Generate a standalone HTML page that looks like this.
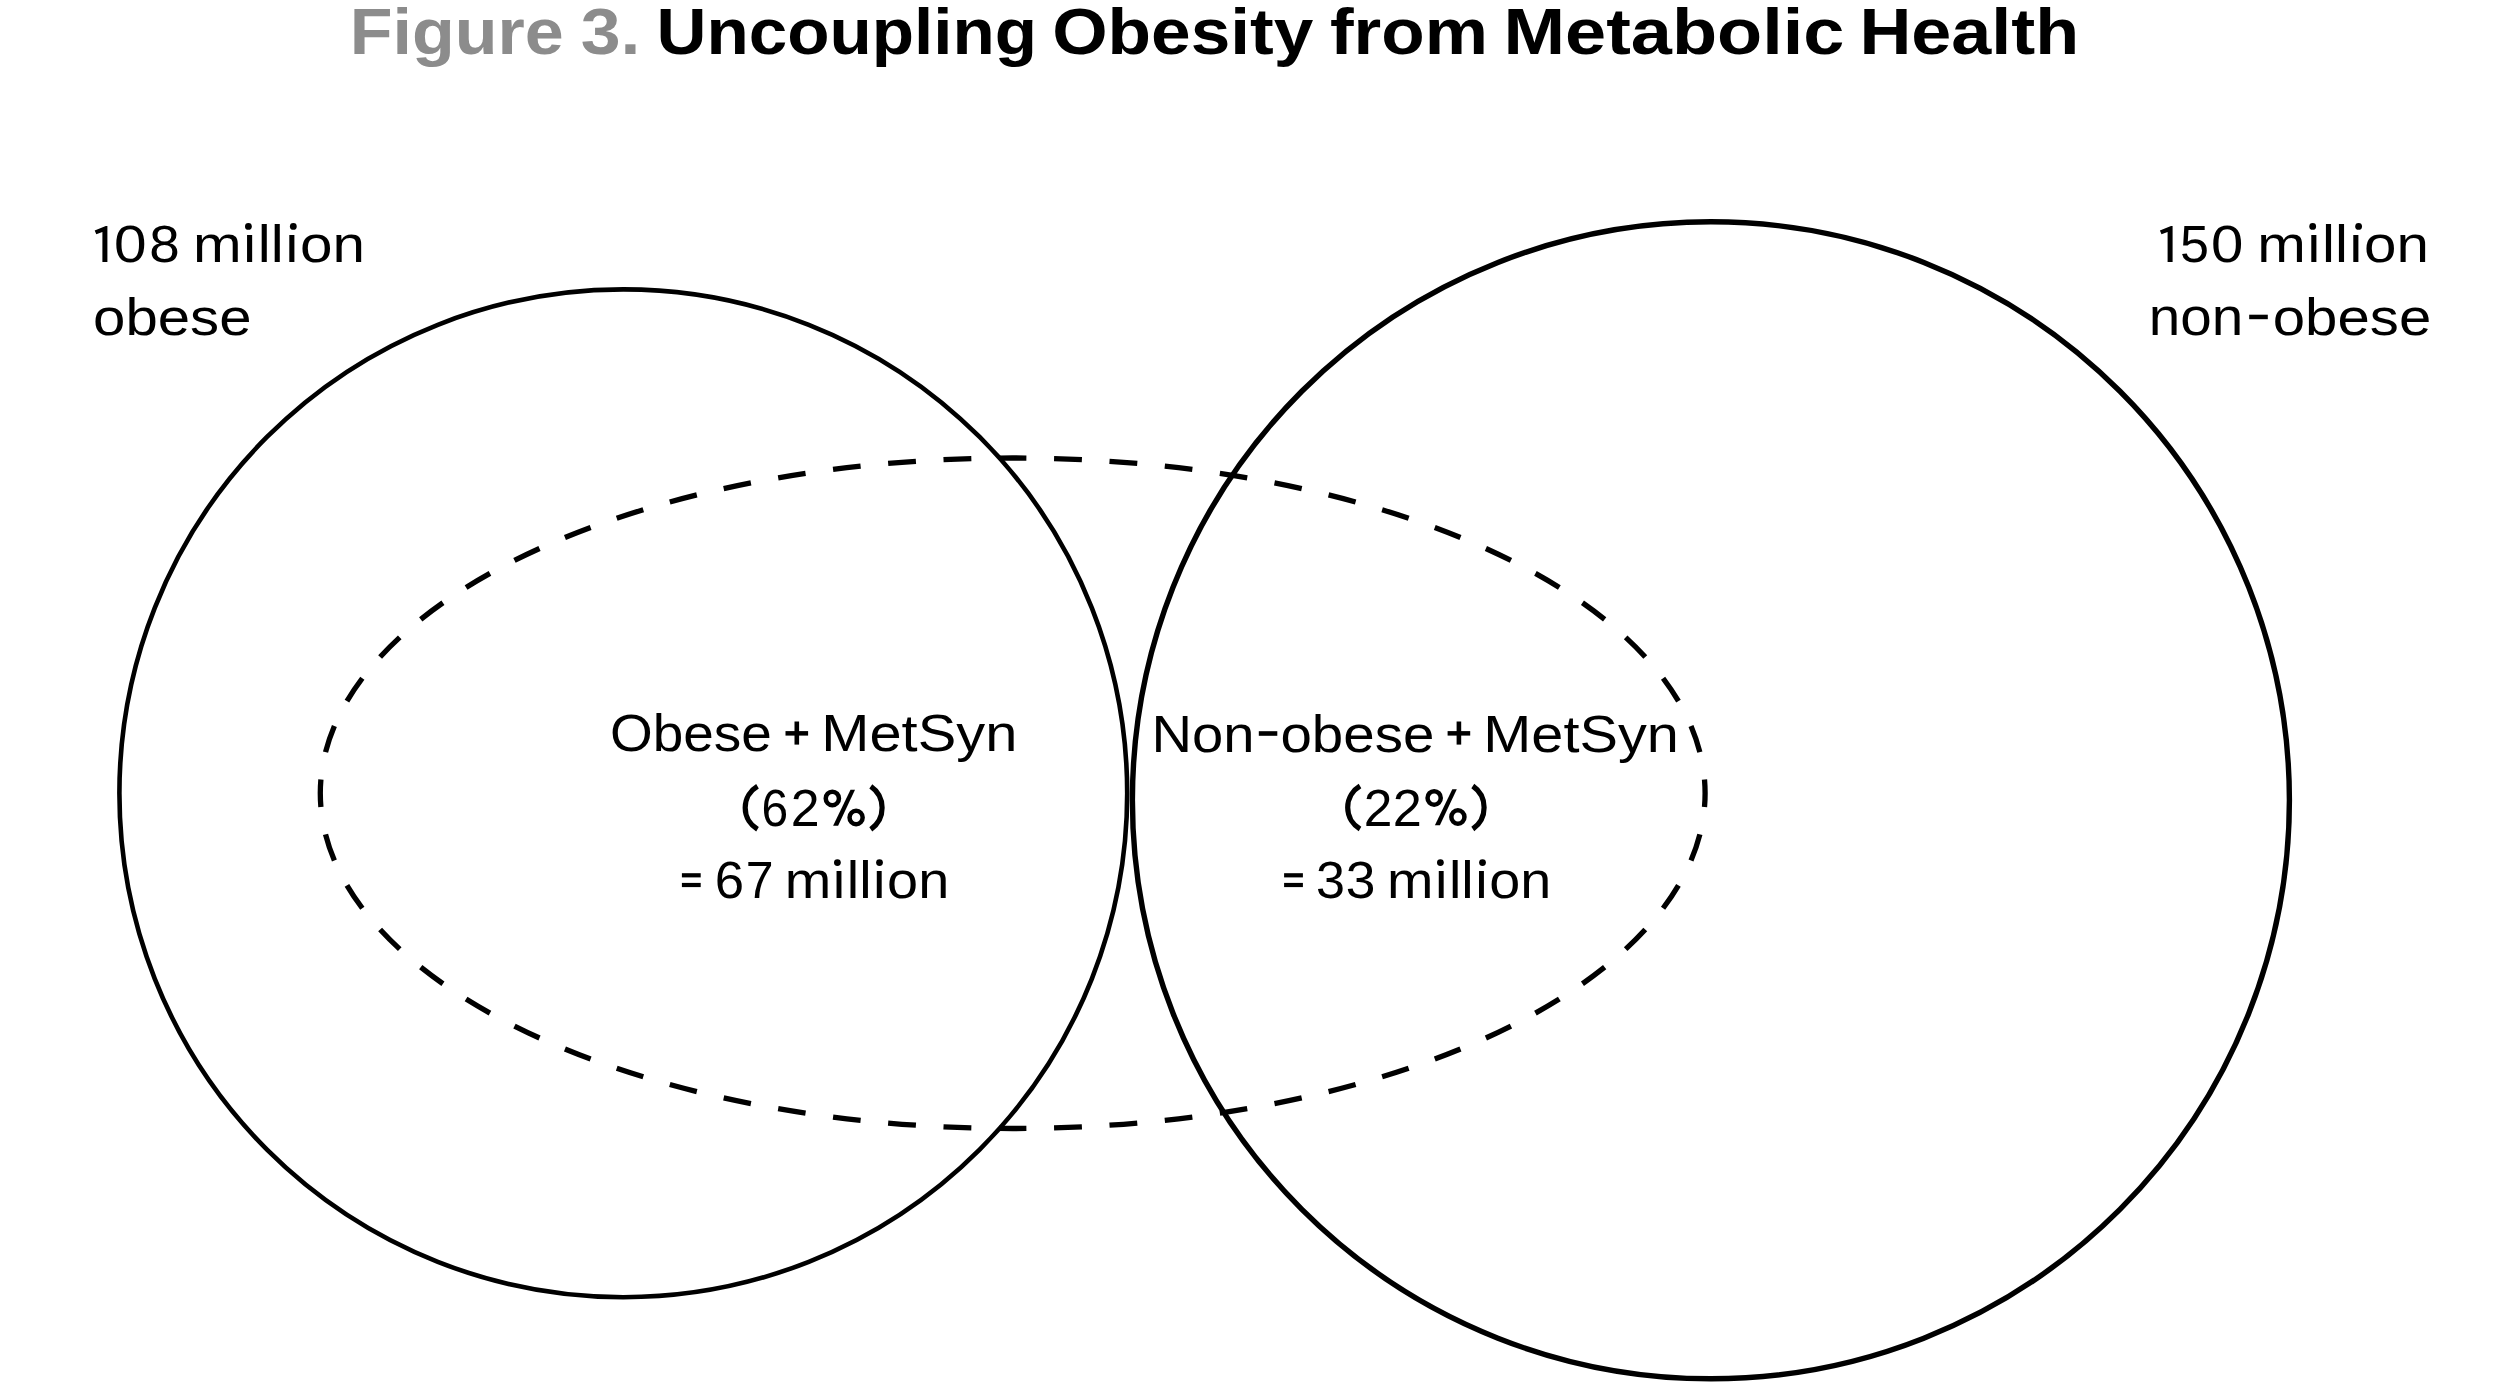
<!DOCTYPE html>
<html><head><meta charset="utf-8"><style>
html,body{margin:0;padding:0;background:#fff;width:2509px;height:1394px;overflow:hidden}
svg{display:block}
text{font-family:"Liberation Sans",sans-serif}
</style></head><body>
<svg width="2509" height="1394" viewBox="0 0 2509 1394">
<rect width="2509" height="1394" fill="#fff"/>
<g fill="none" stroke="#000">
<circle cx="623.3" cy="793.3" r="503.9" stroke-width="4.6"/>
<circle cx="1710.9" cy="800.3" r="578.5" stroke-width="5.4"/>
<ellipse cx="1012.7" cy="793.25" rx="692.4" ry="335.25" stroke-width="5.3" pathLength="60" stroke-dasharray="0.5 0.5" stroke-dashoffset="0.25"/>
</g>
<g fill="#000">
<rect x="785.5" y="731.1" width="22.6" height="4.5"/><rect x="794.5" y="721.5" width="4.6" height="23.1"/>
<rect x="1447.6" y="731.1" width="22.6" height="4.5"/><rect x="1456.6" y="721.5" width="4.6" height="23.1"/>
<rect x="681.9" y="873.2" width="18.8" height="4.2"/><rect x="681.9" y="882.9" width="18.8" height="4.2"/>
<rect x="1284.1" y="873.2" width="18.8" height="4.2"/><rect x="1284.1" y="882.9" width="18.8" height="4.2"/>
<rect x="2249.2" y="314.7" width="18.6" height="4.5"/>
<rect x="1258.8" y="731.2" width="18.5" height="4.6"/>
<path d="M94.7 230.4 L105.8 226.1 L107.4 226.1 L107.4 262.1 L102.4 262.1 L102.4 231.9 L96.3 234.3 Z"/>
<path transform="translate(2065.2 0)" d="M94.7 230.4 L105.8 226.1 L107.4 226.1 L107.4 262.1 L102.4 262.1 L102.4 231.9 L96.3 234.3 Z"/>
<circle cx="248.4" cy="226.4" r="3.4"/><circle cx="293.3" cy="226.4" r="3.4"/>
<circle cx="2312.7" cy="226.4" r="3.4"/><circle cx="2358.6" cy="226.4" r="3.4"/>
<circle cx="837.4" cy="862.6" r="3.4"/><circle cx="879.5" cy="862.6" r="3.4"/>
<circle cx="1440.4" cy="862.6" r="3.4"/><circle cx="1482.5" cy="862.6" r="3.4"/>
<path d="M1452.3 789.3 L1456.8 789.3 L1439.9 825.2 L1434.9 825.2 Z"/>
<path d="M850.5 789.8 L855.0 789.8 L838.1 825.7 L833.1 825.7 Z"/>
</g>
<g fill="none" stroke="#000" stroke-width="5.2">
<path d="M1360 786 A24.94 24.94 0 0 0 1360 829"/>
<path d="M1472.8 786 A26.1 26.1 0 0 1 1472.8 829"/>
<path d="M757.5 786.3 A24.94 24.94 0 0 0 757.5 829.3"/>
<path d="M870.8 786.3 A26.1 26.1 0 0 1 870.8 829.3"/>
</g>
<g fill="none" stroke="#000" stroke-width="4.5">
<ellipse cx="1434.15" cy="797.95" rx="6.6" ry="6.8"/>
<ellipse cx="1457.9" cy="817.0" rx="6.55" ry="6.75"/>
<ellipse cx="832.35" cy="798.45" rx="6.6" ry="6.8"/>
<ellipse cx="856.1" cy="817.5" rx="6.55" ry="6.75"/>
</g>
<text transform="matrix(1.0691 0 0 1 349.82 54.0)" font-weight="bold" font-size="65.5" fill="#8c8c8c">Figure</text>
<text transform="matrix(1.0940 0 0 1 580.71 54.0)" font-weight="bold" font-size="65.5" fill="#8c8c8c">3.</text>
<text transform="matrix(1.0569 0 0 1 656.43 54.1)" font-weight="bold" font-size="65.5" fill="#000">Uncoupling</text>
<text transform="matrix(1.0870 0 0 1 1052.23 54.1)" font-weight="bold" font-size="65.5" fill="#000">Obesity</text>
<text transform="matrix(1.0851 0 0 1 1329.91 54.1)" font-weight="bold" font-size="65.5" fill="#000">from</text>
<text transform="matrix(1.1294 0 0 1 1503.38 54.1)" font-weight="bold" font-size="65.5" fill="#000">Metabolic</text>
<text transform="matrix(1.0984 0 0 1 1859.41 54.1)" font-weight="bold" font-size="65.5" fill="#000">Health</text>
<text transform="matrix(1.1154 0 0 0.9789 113.97 261.92)" font-weight="normal" font-size="52.5" fill="#000">0</text>
<text transform="matrix(1.0440 0 0 0.9789 149.21 261.92)" font-weight="normal" font-size="52.5" fill="#000">8</text>
<text transform="matrix(1.1121 0 0 1 192.96 262.2)" font-weight="normal" font-size="52.5" fill="#000">mıllıon</text>
<text transform="matrix(1.1079 0 0 1 93.08 335.2)" font-weight="normal" font-size="52.5" fill="#000">obese</text>
<text transform="matrix(0.9920 0 0 1 2180.02 262.2)" font-weight="normal" font-size="52.5" fill="#000">5</text>
<text transform="matrix(1.1077 0 0 0.9789 2210.88 261.92)" font-weight="normal" font-size="52.5" fill="#000">0</text>
<text transform="matrix(1.1107 0 0 1 2257.17 262.2)" font-weight="normal" font-size="52.5" fill="#000">mıllıon</text>
<text transform="matrix(1.0793 0 0 1 2148.66 335.2)" font-weight="normal" font-size="52.5" fill="#000">non</text>
<text transform="matrix(1.1079 0 0 1 2272.78 335.2)" font-weight="normal" font-size="52.5" fill="#000">obese</text>
<text transform="matrix(1.0457 0 0 1 610.01 751.4)" font-weight="normal" font-size="52.5" fill="#000">Obese</text>
<text transform="matrix(1.1018 0 0 1 821.29 751.4)" font-weight="normal" font-size="52.5" fill="#000">MetSyn</text>
<text transform="matrix(0.9120 0 0 1 761.58 826.1)" font-weight="normal" font-size="52.5" fill="#000">6</text>
<text transform="matrix(0.9880 0 0 1 790.72 826.1)" font-weight="normal" font-size="52.5" fill="#000">2</text>
<text transform="matrix(1.0040 0 0 1 714.79 898.3)" font-weight="normal" font-size="52.5" fill="#000">6</text>
<text transform="matrix(0.9520 0 0 1 745.80 898.3)" font-weight="normal" font-size="52.5" fill="#000">7</text>
<text transform="matrix(1.0644 0 0 1 784.71 898.3)" font-weight="normal" font-size="52.5" fill="#000">mıllıon</text>
<text transform="matrix(1.0697 0 0 1 1151.52 751.5)" font-weight="normal" font-size="52.5" fill="#000">Non</text>
<text transform="matrix(1.0763 0 0 1 1280.45 751.5)" font-weight="normal" font-size="52.5" fill="#000">obese</text>
<text transform="matrix(1.0988 0 0 1 1483.30 751.5)" font-weight="normal" font-size="52.5" fill="#000">MetSyn</text>
<text transform="matrix(0.9800 0 0 1 1363.74 825.6)" font-weight="normal" font-size="52.5" fill="#000">2</text>
<text transform="matrix(0.9960 0 0 1 1392.81 825.6)" font-weight="normal" font-size="52.5" fill="#000">2</text>
<text transform="matrix(0.9920 0 0 1 1316.02 898.3)" font-weight="normal" font-size="52.5" fill="#000">3</text>
<text transform="matrix(1.0160 0 0 1 1345.67 898.3)" font-weight="normal" font-size="52.5" fill="#000">3</text>
<text transform="matrix(1.0624 0 0 1 1387.01 898.3)" font-weight="normal" font-size="52.5" fill="#000">mıllıon</text>
</svg>
</body></html>
